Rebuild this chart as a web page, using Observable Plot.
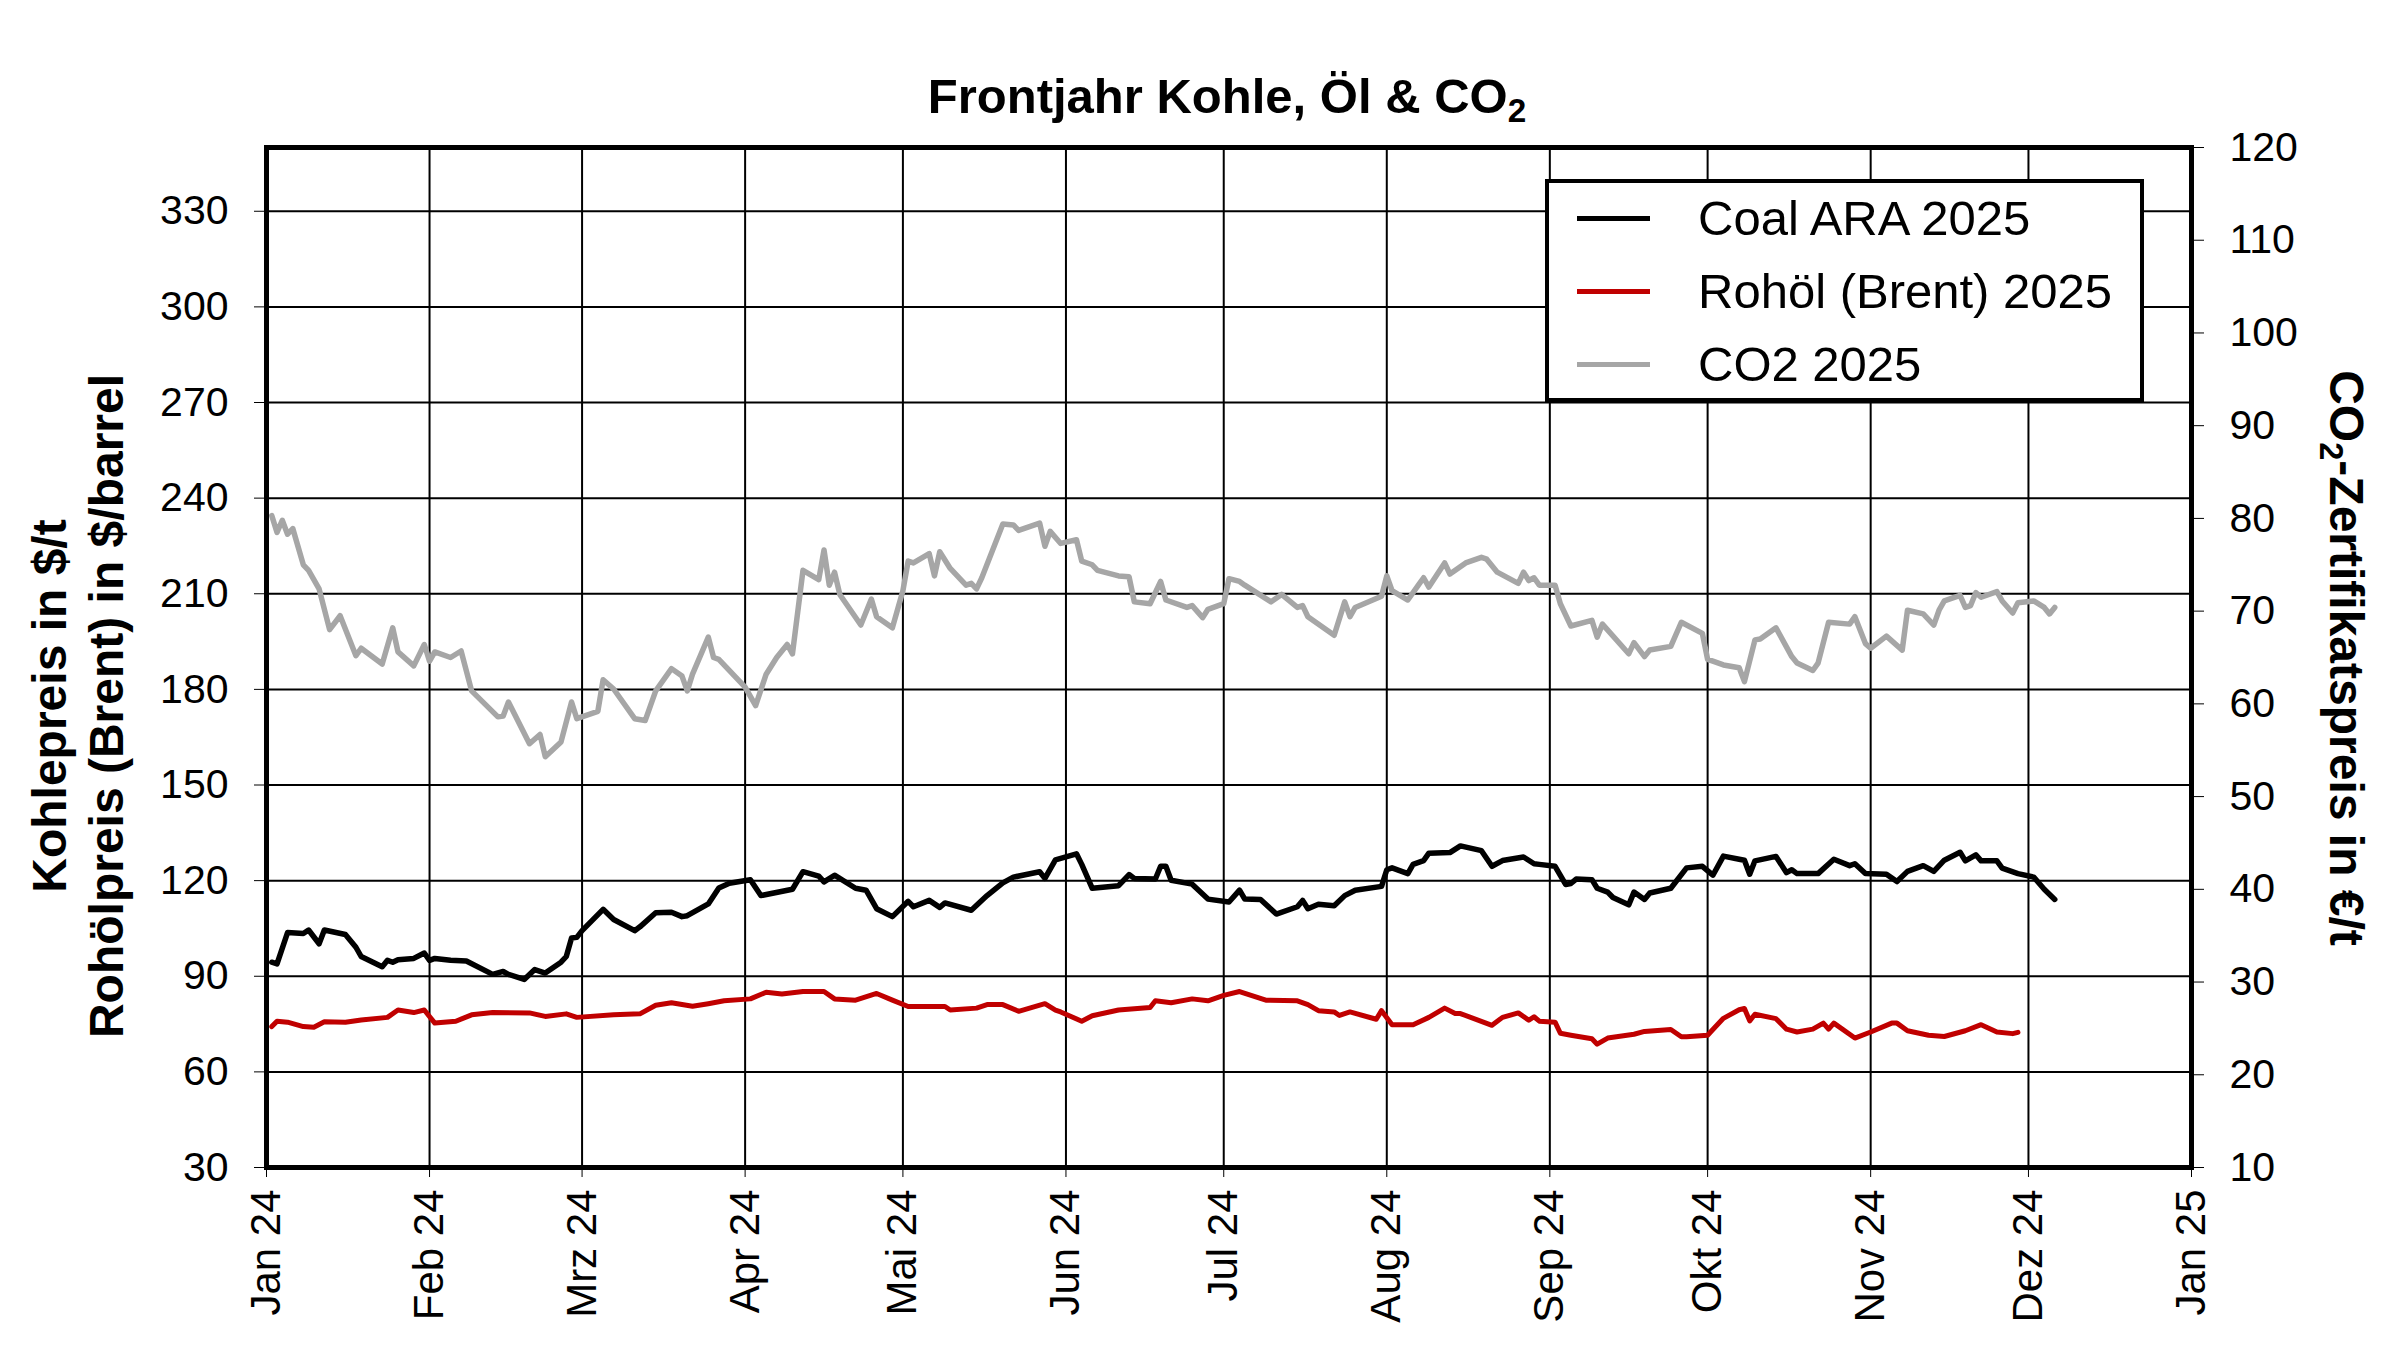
<!DOCTYPE html>
<html>
<head>
<meta charset="utf-8">
<script src="https://cdn.jsdelivr.net/npm/d3@7"></script>
<script src="https://cdn.jsdelivr.net/npm/@observablehq/plot@0.6"></script>
<style>
  html, body { margin: 0; padding: 0; background: #fff; overflow: hidden; }
  #wrap { position: relative; width: 2400px; height: 1349px; font-family: "Liberation Sans", Arial, sans-serif; color: #000; }
  #wrap svg { display: block; }
  .ov { position: absolute; white-space: nowrap; }
  .title { font-weight: bold; font-size: 49px; line-height: 49px; }
  .axt { font-weight: bold; font-size: 48px; line-height: 57px; text-align: center; }
  sub { font-size: 0.68em; vertical-align: -0.28em; line-height: 0; }
  #legend { position: absolute; box-sizing: border-box; border: 4px solid #000; background: #fff; }
  #legend .sw { position: absolute; height: 5px; }
  #legend .lt { position: absolute; font-size: 49px; line-height: 49px; white-space: nowrap; }
</style>
</head>
<body>
<div id="wrap"></div>
<script>
// ---------------- data ----------------
const monthTicks = ["2024-01-01","2024-02-01","2024-03-01","2024-04-01","2024-05-01","2024-06-01",
  "2024-07-01","2024-08-01","2024-09-01","2024-10-01","2024-11-01","2024-12-01","2025-01-01"];
const monthLabels = ["Jan 24","Feb 24","Mrz 24","Apr 24","Mai 24","Jun 24","Jul 24","Aug 24",
  "Sep 24","Okt 24","Nov 24","Dez 24","Jan 25"];
const leftTicks = [30, 60, 90, 120, 150, 180, 210, 240, 270, 300, 330];
const rightTicks = [10, 20, 30, 40, 50, 60, 70, 80, 90, 100, 110, 120];
const leftDomain = [30, 350];
const rightDomain = [10, 120];

const seriesNames = ["Coal ARA 2025", "Rohöl (Brent) 2025", "CO2 2025"];
const seriesColors = ["#000000", "#c00000", "#a6a6a6"];

// Coal ARA front year, $/t
const coalDates = ["2024-01-02","2024-01-03","2024-01-05","2024-01-08","2024-01-09","2024-01-11","2024-01-12","2024-01-16","2024-01-18","2024-01-19","2024-01-23","2024-01-24","2024-01-25","2024-01-26","2024-01-29","2024-01-31",
"2024-02-01","2024-02-02","2024-02-05","2024-02-08","2024-02-13","2024-02-15","2024-02-16","2024-02-19","2024-02-21","2024-02-23","2024-02-26","2024-02-27","2024-02-28","2024-02-29",
"2024-03-01","2024-03-05","2024-03-07","2024-03-11","2024-03-12","2024-03-15","2024-03-18","2024-03-20","2024-03-21","2024-03-25","2024-03-27","2024-03-29",
"2024-04-02","2024-04-04","2024-04-10","2024-04-12","2024-04-15","2024-04-16","2024-04-18","2024-04-22","2024-04-24","2024-04-26","2024-04-29",
"2024-05-02","2024-05-03","2024-05-06","2024-05-08","2024-05-09","2024-05-14","2024-05-17","2024-05-20","2024-05-22","2024-05-27","2024-05-28","2024-05-30",
"2024-06-03","2024-06-04","2024-06-06","2024-06-11","2024-06-13","2024-06-14","2024-06-18","2024-06-19","2024-06-20","2024-06-21","2024-06-25","2024-06-28",
"2024-07-02","2024-07-04","2024-07-05","2024-07-08","2024-07-11","2024-07-15","2024-07-16","2024-07-17","2024-07-19","2024-07-22","2024-07-24","2024-07-26","2024-07-31",
"2024-08-01","2024-08-02","2024-08-05","2024-08-06","2024-08-08","2024-08-09","2024-08-13","2024-08-15","2024-08-19","2024-08-21","2024-08-23","2024-08-27","2024-08-29","2024-08-30",
"2024-09-02","2024-09-04","2024-09-05","2024-09-06","2024-09-09","2024-09-10","2024-09-12","2024-09-13","2024-09-16","2024-09-17","2024-09-19","2024-09-20","2024-09-24","2024-09-27","2024-09-30",
"2024-10-02","2024-10-04","2024-10-07","2024-10-08","2024-10-09","2024-10-10","2024-10-14","2024-10-16","2024-10-17","2024-10-18","2024-10-22","2024-10-25","2024-10-28","2024-10-29","2024-10-31",
"2024-11-04","2024-11-06","2024-11-08","2024-11-11","2024-11-13","2024-11-15","2024-11-18","2024-11-19","2024-11-21","2024-11-22","2024-11-25","2024-11-26","2024-11-29",
"2024-12-02","2024-12-04","2024-12-06"];
const coalPrices = [94.4,93.9,103.7,103.4,104.5,100.2,104.5,103.1,99.1,96.2,93.0,95.0,94.4,95.2,95.6,97.3,
95.0,95.6,95.0,94.8,90.6,91.5,90.6,89.0,92.1,91.0,94.4,96.2,102.0,102.2,
104.3,111.0,107.8,104.3,105.5,109.9,110.1,108.7,109.0,112.7,117.7,119.2,
120.3,115.3,117.3,122.8,121.4,119.6,121.7,117.6,117.0,111.2,108.7,
113.5,111.8,113.8,111.6,113.0,110.7,115.3,119.3,121.1,122.8,120.7,126.5,
128.4,125.1,117.6,118.4,121.9,120.7,120.5,124.5,124.5,120.1,118.9,114.2,
113.3,117.0,114.2,114.1,109.5,111.8,113.8,111.2,112.6,112.1,115.3,117.0,118.2,
123.4,124.0,122.2,125.1,126.3,128.6,128.8,130.9,129.4,124.5,126.3,127.4,125.3,125.1,
124.5,118.8,119.1,120.5,120.3,117.6,116.4,114.7,112.4,116.4,114.1,116.1,117.6,124.0,124.5,
121.7,127.7,126.7,126.4,122.0,126.2,127.6,122.5,123.4,122.2,122.2,126.7,124.7,125.3,122.2,
122.0,119.7,122.9,124.7,122.9,126.4,128.9,126.2,128.1,126.2,126.2,123.9,122.2,
121.1,117.3,114.1];

// Brent front year, $/barrel
const brentDates = ["2024-01-02","2024-01-03","2024-01-05","2024-01-08","2024-01-10","2024-01-12","2024-01-16","2024-01-19","2024-01-24","2024-01-26","2024-01-29","2024-01-31",
"2024-02-02","2024-02-06","2024-02-09","2024-02-13","2024-02-20","2024-02-23","2024-02-27","2024-02-29",
"2024-03-07","2024-03-12","2024-03-15","2024-03-18","2024-03-22","2024-03-25","2024-03-28",
"2024-04-02","2024-04-05","2024-04-08","2024-04-12","2024-04-16","2024-04-18","2024-04-22","2024-04-26","2024-04-29",
"2024-05-02","2024-05-09","2024-05-10","2024-05-15","2024-05-17","2024-05-20","2024-05-23","2024-05-28","2024-05-30","2024-05-31",
"2024-06-04","2024-06-06","2024-06-11","2024-06-17","2024-06-18","2024-06-21","2024-06-25","2024-06-28",
"2024-07-01","2024-07-04","2024-07-09","2024-07-15","2024-07-17","2024-07-19","2024-07-22","2024-07-23","2024-07-25","2024-07-30","2024-07-31",
"2024-08-02","2024-08-06","2024-08-09","2024-08-12","2024-08-14","2024-08-15","2024-08-21","2024-08-23","2024-08-26","2024-08-28","2024-08-29","2024-08-30",
"2024-09-02","2024-09-03","2024-09-05","2024-09-09","2024-09-10","2024-09-12","2024-09-17","2024-09-19","2024-09-24","2024-09-26","2024-09-27",
"2024-10-01","2024-10-02","2024-10-04","2024-10-07","2024-10-08","2024-10-09","2024-10-10","2024-10-14","2024-10-16","2024-10-18","2024-10-21","2024-10-23","2024-10-24","2024-10-25","2024-10-29",
"2024-11-01","2024-11-05","2024-11-06","2024-11-08","2024-11-12","2024-11-15","2024-11-19","2024-11-22","2024-11-25","2024-11-28","2024-11-29"];
const brentPrices = [74.2,75.9,75.6,74.2,74.0,75.7,75.6,76.3,77.1,79.4,78.6,79.4,
75.3,75.9,77.9,78.6,78.5,77.4,78.2,77.1,
77.9,78.2,80.9,81.7,80.6,81.4,82.3,
82.9,85.0,84.4,85.2,85.2,82.9,82.5,84.6,82.5,
80.5,80.5,79.4,80.0,81.1,81.1,79.0,81.4,79.4,78.8,
75.9,77.6,79.4,80.2,82.3,81.7,82.9,82.3,
84.0,85.2,82.5,82.3,81.1,79.2,78.8,77.7,78.8,76.5,79.2,
74.8,74.8,77.1,80.0,78.3,78.3,74.6,77.1,78.5,76.2,77.3,75.9,
75.6,72.1,71.5,70.4,68.7,70.6,71.8,72.7,73.3,71.0,71.0,
71.5,73.3,76.8,79.5,79.9,76.0,78.1,76.7,73.4,72.5,73.4,75.3,73.4,75.3,70.6,
72.5,75.3,75.3,72.9,71.5,71.1,72.9,74.8,72.5,72.0,72.4];

// CO2 certificates front year, EUR/t (right axis)
const co2Dates = ["2024-01-02","2024-01-03","2024-01-04","2024-01-05","2024-01-06","2024-01-08","2024-01-09","2024-01-11","2024-01-13","2024-01-15","2024-01-18","2024-01-19","2024-01-23","2024-01-25","2024-01-26","2024-01-29","2024-01-31",
"2024-02-01","2024-02-02","2024-02-05","2024-02-07","2024-02-09","2024-02-14","2024-02-15","2024-02-16","2024-02-20","2024-02-22","2024-02-23","2024-02-26","2024-02-28","2024-02-29",
"2024-03-04","2024-03-05","2024-03-07","2024-03-11","2024-03-13","2024-03-15","2024-03-18","2024-03-20","2024-03-21","2024-03-22","2024-03-25","2024-03-26","2024-03-27",
"2024-04-01","2024-04-03","2024-04-05","2024-04-07","2024-04-09","2024-04-10","2024-04-12","2024-04-15","2024-04-16","2024-04-17","2024-04-18","2024-04-19","2024-04-23","2024-04-25","2024-04-26","2024-04-29",
"2024-05-01","2024-05-02","2024-05-03","2024-05-06","2024-05-07","2024-05-08","2024-05-10","2024-05-13","2024-05-14","2024-05-15","2024-05-16","2024-05-20","2024-05-22","2024-05-23","2024-05-27","2024-05-28","2024-05-29","2024-05-31",
"2024-06-03","2024-06-04","2024-06-06","2024-06-07","2024-06-11","2024-06-13","2024-06-14","2024-06-17","2024-06-19","2024-06-20","2024-06-24","2024-06-25","2024-06-27","2024-06-28",
"2024-07-01","2024-07-02","2024-07-04","2024-07-05","2024-07-10","2024-07-12","2024-07-15","2024-07-16","2024-07-17","2024-07-22","2024-07-24","2024-07-25","2024-07-26","2024-07-31",
"2024-08-01","2024-08-02","2024-08-05","2024-08-07","2024-08-08","2024-08-09","2024-08-12","2024-08-13","2024-08-16","2024-08-19","2024-08-20","2024-08-22","2024-08-26","2024-08-27","2024-08-28","2024-08-29","2024-08-30",
"2024-09-02","2024-09-03","2024-09-05","2024-09-09","2024-09-10","2024-09-11","2024-09-16","2024-09-17","2024-09-19","2024-09-20","2024-09-24","2024-09-26","2024-09-30",
"2024-10-01","2024-10-02","2024-10-04","2024-10-07","2024-10-08","2024-10-10","2024-10-11","2024-10-14","2024-10-17","2024-10-18","2024-10-21","2024-10-22","2024-10-24","2024-10-28","2024-10-29","2024-10-31",
"2024-11-01","2024-11-04","2024-11-07","2024-11-08","2024-11-11","2024-11-13","2024-11-14","2024-11-15","2024-11-18","2024-11-19","2024-11-20","2024-11-21","2024-11-22","2024-11-25","2024-11-26","2024-11-28","2024-11-29",
"2024-12-02","2024-12-04","2024-12-05","2024-12-06"];
const co2Prices = [80.3,78.5,79.8,78.3,78.9,75.0,74.4,72.4,68.0,69.5,65.2,66.0,64.3,68.2,65.6,64.1,66.4,
64.6,65.6,65.0,65.7,61.4,58.6,58.7,60.2,55.7,56.7,54.3,55.9,60.2,58.4,
59.2,62.6,61.6,58.4,58.2,61.4,63.8,63.0,61.4,63.2,67.2,65.0,64.8,
61.8,59.8,63.2,65.0,66.4,65.4,74.4,73.4,76.6,72.8,74.2,71.8,68.5,71.3,69.4,68.2,
72.2,75.4,75.2,76.2,73.8,76.4,74.6,72.8,73.0,72.4,73.6,79.4,79.3,78.7,79.5,77.0,78.6,77.3,
77.7,75.4,75.0,74.4,73.8,73.7,71.0,70.8,73.2,71.2,70.4,70.6,69.3,70.2,
70.8,73.5,73.2,72.8,71.0,71.8,70.4,70.6,69.4,67.4,71.0,69.4,70.4,71.6,
73.8,72.2,71.2,72.8,73.6,72.6,75.2,74.0,75.2,75.8,75.6,74.2,73.0,74.2,73.3,73.6,72.8,
72.8,70.8,68.4,69.0,67.2,68.6,65.4,66.6,65.1,65.8,66.2,68.8,67.6,
64.8,64.6,64.2,63.9,62.4,66.9,67.0,68.2,65.1,64.4,63.6,64.4,68.8,68.6,69.4,66.5,
66.0,67.3,65.8,70.1,69.7,68.5,70.1,71.1,71.7,70.4,70.6,72.0,71.5,72.1,71.1,69.8,70.9,
71.1,70.4,69.7,70.4];

// ---------------- build ----------------
const W = 2400, H = 1349;
const frameL = 266, frameR = 2191, frameT = 147, frameB = 1167;

const toLeft = v => leftDomain[0] + (v - rightDomain[0]) * (leftDomain[1] - leftDomain[0]) / (rightDomain[1] - rightDomain[0]);
const fromLeft = v => rightDomain[0] + (v - leftDomain[0]) * (rightDomain[1] - rightDomain[0]) / (leftDomain[1] - leftDomain[0]);

const coal = coalDates.map((d, i) => ({date: new Date(d), value: coalPrices[i]}));
const brent = brentDates.map((d, i) => ({date: new Date(d), value: brentPrices[i]}));
const co2 = co2Dates.map((d, i) => ({date: new Date(d), value: co2Prices[i]}));
const months = monthTicks.map(d => new Date(d));
const labelOf = new Map(months.map((d, i) => [+d, monthLabels[i]]));

const font = '"Liberation Sans", Arial, sans-serif';

const chart = Plot.plot({
  width: W,
  height: H,
  marginLeft: frameL,
  marginRight: W - frameR,
  marginTop: frameT,
  marginBottom: H - frameB,
  style: {fontFamily: font, fontSize: "41px", color: "#000", background: "#fff", overflow: "visible"},
  x: {type: "utc", domain: [months[0], months[months.length - 1]]},
  y: {domain: leftDomain},
  marks: [
    Plot.gridX(months, {stroke: "#000", strokeOpacity: 1, strokeWidth: 2}),
    Plot.gridY(leftTicks, {stroke: "#000", strokeOpacity: 1, strokeWidth: 2}),
    Plot.lineY(co2, {x: "date", y: d => toLeft(d.value), stroke: seriesColors[2], strokeWidth: 5.5}),
    Plot.lineY(brent, {x: "date", y: "value", stroke: seriesColors[1], strokeWidth: 5}),
    Plot.lineY(coal, {x: "date", y: "value", stroke: seriesColors[0], strokeWidth: 5.5}),
    Plot.frame({stroke: "#000", strokeWidth: 5}),
    Plot.axisY(leftTicks, {anchor: "left", tickSize: 12, tickPadding: 26, fontSize: 41, label: null}),
    Plot.axisY(rightTicks.map(toLeft), {anchor: "right", tickSize: 12, tickPadding: 26, fontSize: 41, label: null,
      tickFormat: v => String(Math.round(fromLeft(v)))}),
    Plot.axisX(months, {anchor: "bottom", tickSize: 10, tickPadding: 12, tickRotate: -90, fontSize: 42, label: null,
      tickFormat: d => labelOf.get(+d)})
  ]
});

const wrap = document.getElementById("wrap");
wrap.appendChild(chart);

// title
const title = document.createElement("div");
title.className = "ov title";
title.innerHTML = "Frontjahr Kohle, Öl &amp; CO<sub>2</sub>";
title.style.left = "1227px";
title.style.top = "72px";
title.style.transform = "translateX(-50%)";
wrap.appendChild(title);

// left axis title (two lines)
const lt = document.createElement("div");
lt.className = "ov axt";
lt.innerHTML = "Kohlepreis in $/t<br>Rohölpreis (Brent) in $/barrel";
lt.style.left = "78px";
lt.style.top = "706px";
lt.style.transform = "translate(-50%,-50%) rotate(-90deg)";
wrap.appendChild(lt);

// right axis title
const rt = document.createElement("div");
rt.className = "ov axt";
rt.innerHTML = "CO<sub>2</sub>-Zertifikatspreis in €/t";
rt.style.left = "2346px";
rt.style.top = "658px";
rt.style.transform = "translate(-50%,-50%) rotate(90deg)";
wrap.appendChild(rt);

// legend
const lg = document.createElement("div");
lg.id = "legend";
lg.style.left = "1545px";
lg.style.top = "179px";
lg.style.width = "599px";
lg.style.height = "223px";
seriesNames.forEach((name, i) => {
  const cy = 35 + i * 73;
  const sw = document.createElement("div");
  sw.className = "sw";
  sw.style.left = "28px";
  sw.style.width = "73px";
  sw.style.top = (cy - 2.5) + "px";
  sw.style.background = seriesColors[i];
  lg.appendChild(sw);
  const tx = document.createElement("div");
  tx.className = "lt";
  tx.textContent = name;
  tx.style.left = "149px";
  tx.style.top = (cy - 24) + "px";
  lg.appendChild(tx);
});
wrap.appendChild(lg);
</script>
</body>
</html>
